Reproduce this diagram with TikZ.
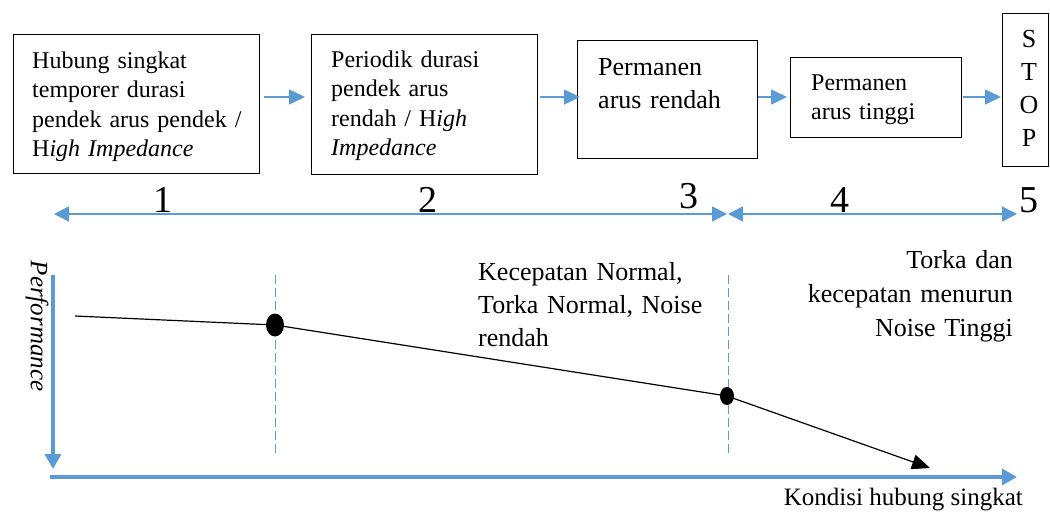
\documentclass[tikz,border=0pt]{standalone}
\usepackage{fontspec}
\setmainfont{Liberation Serif}
\usetikzlibrary{arrows.meta,calc,shapes.geometric}
\definecolor{wblue}{HTML}{5B9BD5}
\begin{document}
\begin{tikzpicture}[x=1pt,y=-1pt,
  box/.style={draw,line width=1.1pt,inner sep=0pt,anchor=north west},
  btxt/.style={inner sep=0pt,anchor=base west,align=left,text width=#1},
  fsmall/.style={font=\fontsize{24}{29.5}\selectfont},
  fmid/.style={font=\fontsize{26}{33}\selectfont},
  num/.style={inner sep=0pt,anchor=base,font=\fontsize{38}{40}\selectfont},
  barrow/.style={draw=wblue,line width=1.5pt,-{Triangle[length=16pt,width=15pt]}},
  dblarrow/.style={draw=wblue,line width=1.5pt,{Triangle[length=15pt,width=15pt]}-{Triangle[length=15pt,width=15pt]}},
  axis/.style={draw=wblue,line width=3.5pt,-{Triangle[length=15pt,width=16pt]}},
  vdash/.style={draw=wblue,line width=1pt,dash pattern=on 9pt off 4pt},
  dot/.style={fill=black,ellipse,inner sep=0pt}
]
\useasboundingbox (0,0) rectangle (1050,512);

% boxes
\node[box,minimum width=246pt,minimum height=139pt] (b1) at (13,34) {};
\node[box,minimum width=226pt,minimum height=140pt] (b2) at (311,34) {};
\node[box,minimum width=180pt,minimum height=118pt] (b3) at (577,40) {};
\node[box,minimum width=171pt,minimum height=80pt] (b4) at (790,57) {};
\node[box,minimum width=46pt,minimum height=153pt] (b5) at (1002,13) {};

% box texts
\node[btxt=225pt,fsmall] (t1) at (32,68) {Hubung singkat\\temporer durasi\\pendek arus pendek /\\H\textit{igh Impedance}};
\node[btxt=205pt,fsmall] (t2) at (331,67) {Periodik durasi\\pendek arus\\rendah / H\textit{igh}\\\textit{Impedance}};
\node[btxt=160pt,fmid] (t3) at (598,75) {Permanen\\arus rendah};
\node[btxt=150pt,fsmall] (t4) at (811,90) {Permanen\\arus tinggi};
\node[inner sep=0pt,anchor=base,align=center,text width=30pt,font=\fontsize{26}{33.3}\selectfont] (t5) at (1029,47) {S\\T\\O\\P};

% flow arrows
\coordinate (ay) at (0,97);
\draw[barrow,shorten <=4pt,shorten >=6pt] (b1.east|-ay) -- (b2.west|-ay);
\draw[barrow,shorten <=2pt,shorten >=-3pt] (b2.east|-ay) -- (b3.west|-ay);
\draw[barrow,shorten >=3pt] (b3.east|-ay) -- (b4.west|-ay);
\draw[barrow,shorten <=1pt,shorten >=1pt] (b4.east|-ay) -- (b5.west|-ay);

% phase line
\coordinate (p0) at (54,214);
\coordinate (p3) at (727,214);
\coordinate (p3b) at (728,214);
\coordinate (p5) at (1017,214);
\draw[dblarrow] (p0) -- (p3);
\draw[dblarrow] (p3b) -- (p5);
\node[num] (n1) at (163,212) {1};
\node[num] (n2) at (428,212) {2};
\node[num] (n3) at (689,208) {3};
\node[num] (n4) at (840,212) {4};
\node[num] (n5) at (1029,212) {5};

% axes
\coordinate (ytop) at (53,275);
\coordinate (ybot) at (53,469);
\draw[axis] (ytop) -- (ybot);
\coordinate (xl) at (50,477);
\coordinate (xr) at (1017,477);
\draw[axis] (xl) -- (xr);
\node[inner sep=0pt,rotate=-90,font=\fontsize{25}{30}\selectfont\itshape] (perf) at (37,326) {Performance};
\node[inner sep=0pt,anchor=base east,font=\fontsize{25}{30}\selectfont] (kond) at (1023,505) {Kondisi hubung singkat};

% dashed markers
\coordinate (d1t) at (275,275);
\coordinate (d1b) at (275,453);
\coordinate (d2t) at (728,275);
\coordinate (d2b) at (728,453);
\draw[vdash] (d1t) -- (d1b);
\draw[vdash] (d2t) -- (d2b);

% performance curve
\coordinate (c0) at (75,316);
\node[dot,minimum width=18pt,minimum height=23pt] (k1) at (275,325) {};
\node[dot,minimum width=14pt,minimum height=18pt] (k2) at (727,396) {};
\coordinate (c3) at (930,468);
\draw[line width=1.2pt] (c0) -- (k1.center) -- (k2.center);
\draw[line width=1.2pt,-{Triangle[length=18pt,width=15pt]}] (k2.center) -- (c3);

% annotations
\node[btxt=240pt,fmid] (ann1) at (478,280) {Kecepatan Normal,\\Torka Normal, Noise\\rendah};
\node[inner sep=0pt,anchor=base east,align=right,text width=240pt,font=\fontsize{26}{34}\selectfont] (ann2) at (1013,268) {Torka dan\\kecepatan menurun\\Noise Tinggi};
\end{tikzpicture}
\end{document}
